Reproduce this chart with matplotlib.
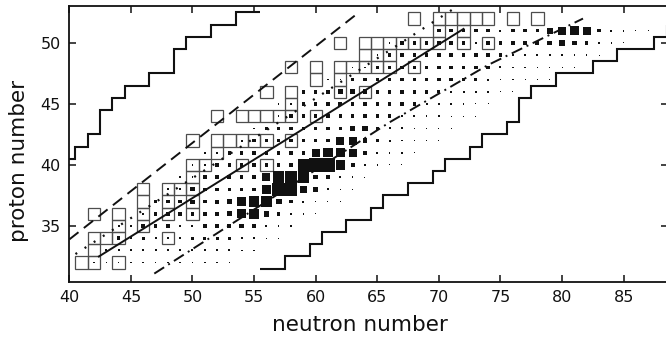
import matplotlib
matplotlib.use("Agg")
import matplotlib.pyplot as plt
from matplotlib.patches import Rectangle

# yields: one row per proton number, first neutron number and marker side (px)
z_rows = [32, 33, 34, 35, 36, 37, 38, 39, 40, 41, 42, 43, 44, 45, 46, 47, 48, 49, 50, 51]
n_first = [42, 43, 44, 44, 46, 47, 48, 49, 50, 51, 54, 55, 57, 57, 59, 61, 63, 65, 66, 70]
yield_px = [
    [1.5] * 12,
    [2, 2, 2, 2, 2, 2, 2, 2, 2, 2, 2, 1.5, 1.5],
    [3, 2, 2.5, 2, 2, 2, 2.5, 2.5, 2.5, 2.5, 2, 1.5, 1, 1],
    [2, 1.5, 3.5, 3, 3, 2, 2, 3, 3, 3.5, 4, 3, 2, 1.5, 1.5],
    [2, 3, 3.5, 3, 3, 3, 3.5, 4.5, 8, 9, 5, 3, 2, 1.5, 1],
    [3, 3, 3, 3.5, 3, 3.5, 4, 8, 9, 9, 5, 3, 2, 1.5, 1, 1],
    [2, 2, 3.5, 3, 3, 3, 3, 3, 8, 11, 11, 6, 4, 2, 1.5, 1],
    [1.5, 1.5, 3, 3, 3.5, 3, 3, 7, 10, 11, 10, 4, 3, 2, 1.5, 1],
    [1.5, 1.5, 3, 3, 3, 3, 3, 3, 4, 10, 12, 12, 8, 3.5, 2, 1.5, 1, 1],
    [1.5, 1.5, 3, 3, 3, 3, 3, 3, 3, 7, 8, 8, 7, 3, 2, 1.5, 1.5, 1],
    [2, 3, 3, 3, 3, 3, 3, 3, 7, 7, 4, 3, 2, 1.5, 1, 1, 1],
    [1.5, 3, 3, 3, 3, 3, 3, 3, 4.5, 5, 3, 2, 2, 1, 1, 1, 1],
    [1.5, 3, 3, 3, 3, 3, 3, 3.5, 3, 3, 2, 2, 1.5, 1.5, 1, 1, 1],
    [1.5, 1.5, 3, 3, 3, 3.5, 3, 3, 3, 3, 3, 3, 2, 2, 1.5, 1.5, 1, 1],
    [3, 3, 3, 4, 4, 4, 3, 3, 3, 3, 3, 2.5, 2, 2, 1.5, 1.5, 1, 1],
    [1.5, 1.5, 3, 3, 3, 3, 3, 3, 3, 3, 3, 3, 2.5, 2, 1.5, 1.5, 1, 1, 1],
    [1.5, 1.5, 3, 3, 3, 3, 3, 3, 3, 3, 3, 3, 2, 1.5, 1.5, 1.5, 1.5, 1, 1],
    [1.5, 3, 3, 3, 3, 3, 3, 3, 3, 3, 3, 2, 2, 2, 2, 2, 1.5, 1.5, 1],
    [1.5, 3, 3, 3, 3, 3, 3, 1.5, 3, 3, 3, 3, 3.5, 4, 5, 4, 3, 2, 1.5, 1],
    [3, 3, 3, 3, 3, 2, 3, 3, 3, 5, 7, 8, 7, 3, 2, 1.5, 1, 1],
]

# known nuclei (open squares)
box_n = [41, 42, 44, 42, 42, 43, 44, 48, 44, 46, 42, 44, 46, 48, 50, 46, 48, 50,
         46, 48, 49, 50, 50, 50, 51, 54, 56, 52, 50, 52, 53, 54, 55, 56, 58,
         52, 54, 55, 56, 57, 58, 60, 58, 56, 58, 62, 64, 60, 62,
         58, 60, 62, 63, 64, 65, 66, 68, 64, 65, 66,
         62, 64, 65, 66, 67, 68, 69, 70, 72, 74, 70, 72,
         68, 70, 71, 72, 73, 74, 76, 78]
box_z = [32, 32, 32, 33, 34, 34, 34, 34, 35, 35, 36, 36, 36, 36, 36, 37, 37, 37,
         38, 38, 38, 38, 39, 40, 40, 40, 40, 41, 42, 42, 42, 42, 42, 42, 42,
         44, 44, 44, 44, 44, 44, 44, 45, 46, 46, 46, 46, 47, 47,
         48, 48, 48, 48, 48, 48, 48, 48, 49, 49, 49,
         50, 50, 50, 50, 50, 50, 50, 50, 50, 50, 51, 51,
         52, 52, 52, 52, 52, 52, 52, 52]

# model lines
solid_n, solid_z = [42.4, 72.0], [32.5, 51.15]
dashed_n, dashed_z = [40.0, 63.5], [33.9, 52.5]
dotted_n, dotted_z = [40.5, 71.5], [32.7, 53.0]
dashdot_n = [46.9, 56.0, 66.0, 74.0, 81.7]
dashdot_z = [31.1, 37.0, 43.5, 48.2, 52.0]

# limits of the calculation (staircases)
upper_edges = [39.5, 40.5, 41.5, 42.5, 43.5, 44.5, 46.5, 48.5, 49.5, 51.5, 53.5, 55.5]
upper_z = [40.5, 41.5, 42.5, 44.5, 45.5, 46.5, 47.5, 49.5, 50.5, 51.5, 52.5]
lower_edges = [55.5, 57.5, 59.5, 60.5, 62.5, 64.5, 65.5, 67.5, 69.5, 70.5, 72.5,
               73.5, 75.5, 76.5, 77.5, 79.5, 82.5, 84.5, 87.5, 88.5, 89.5]
lower_z = [31.5, 32.5, 33.5, 34.5, 35.5, 36.5, 37.5, 38.5, 39.5, 40.5, 41.5,
           42.5, 43.5, 45.5, 46.5, 47.5, 48.5, 49.5, 50.5, 51.5]

fig = plt.figure(figsize=(6.66, 3.38), dpi=100)
ax = fig.add_axes([69.3 / 666, 56 / 338, 598.7 / 666, 276 / 338])
ax.set_xlim(40, 88.6)
ax.set_ylim(30.41, 53.03)

px = 0.72  # points per pixel at 100 dpi
for z, n0, row in zip(z_rows, n_first, yield_px):
    ns = [n0 + i for i in range(len(row))]
    sizes = [((v * 1.15 if v >= 2.5 else v) * px) ** 2 for v in row]
    ax.scatter(ns, [z] * len(row), s=sizes, marker='s',
               color='#111111', linewidths=0, zorder=3)

for n, z in zip(box_n, box_z):
    ax.add_patch(Rectangle((n - 0.5, z - 0.5), 1, 1, fill=False,
                           edgecolor='#4d4d4d', linewidth=0.9, zorder=2))

ax.plot(solid_n, solid_z, color='#111111', lw=1.4, zorder=4)
ax.plot(dashed_n, dashed_z, color='#111111', lw=1.4, ls=(0, (6, 3.5)), zorder=4)
ax.plot(dotted_n, dotted_z, color='#111111', lw=1.6, ls=(0, (0.9, 4)), zorder=4)
ax.plot(dashdot_n, dashdot_z, color='#111111', lw=1.4, ls=(0, (6, 2.5, 1, 2.5)), zorder=4)
ax.stairs(upper_z, upper_edges, baseline=None, color='#111111', lw=1.5, zorder=4)
ax.stairs(lower_z, lower_edges, baseline=None, color='#111111', lw=1.5, zorder=4)

ax.set_xticks(range(40, 90, 5))
ax.set_yticks([35, 40, 45, 50])
ax.tick_params(direction='in', length=5, width=1.1, top=True, right=True,
               labelsize=11.5, pad=6, colors='#111111')
for sp in ax.spines.values():
    sp.set_linewidth(1.3)
    sp.set_color('#111111')

ax.set_xlabel('neutron number', fontsize=15.5, color='#111111')
ax.set_ylabel('proton number', fontsize=15.5, color='#111111')
ax.xaxis.set_label_coords(0.486, -0.118)
ax.yaxis.set_label_coords(-0.068, 0.44)

fig.savefig('out.png', dpi=100)
